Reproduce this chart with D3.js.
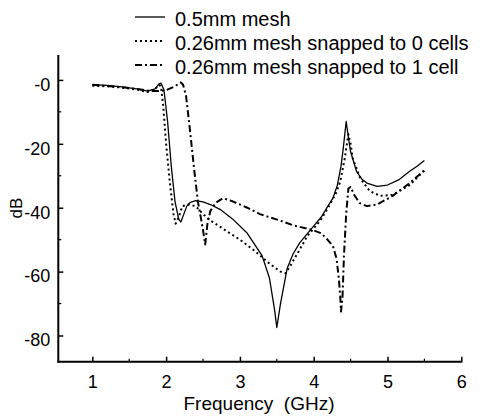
<!DOCTYPE html>
<html>
<head>
<meta charset="utf-8">
<script src="https://cdn.jsdelivr.net/npm/d3@7"></script>
<style>
  html, body { margin: 0; padding: 0; background: #fff; }
  svg text { font-family: "Liberation Sans", Arial, sans-serif; fill: #000; }
</style>
</head>
<body>
<svg id="chart" width="484" height="416"></svg>
<script>
// ---- data (frequency in GHz, magnitude in dB) ----
const seriesNames = ["0.5mm mesh", "0.26mm mesh snapped to 0 cells", "0.26mm mesh snapped to 1 cell"];

const mesh05Freq = [1.0, 1.2, 1.4, 1.6, 1.75, 1.85, 1.9, 1.93, 1.97, 2.02, 2.07, 2.12, 2.17, 2.2, 2.24, 2.28, 2.33, 2.4, 2.5, 2.6, 2.73, 2.9, 3.1, 3.3, 3.4, 3.47, 3.5, 3.55, 3.64, 3.72, 3.81, 3.99, 4.1, 4.18, 4.26, 4.32, 4.37, 4.4, 4.44, 4.47, 4.5, 4.58, 4.65, 4.72, 4.86, 5.0, 5.15, 5.3, 5.4, 5.5];
const mesh05dB   = [-1.5, -1.7, -2.2, -2.8, -3.5, -2.8, -1.3, -1.0, -3, -13, -27, -38, -43.5, -44.5, -42, -39.5, -38.3, -37.8, -38.2, -39, -40.5, -43.5, -48, -55, -62, -72, -77.5, -70, -59, -54.5, -51, -46, -43, -40, -37, -33, -27, -21.5, -13, -18, -22.5, -28.6, -31, -32.3, -33.3, -32.9, -31.3, -28.6, -27, -25.2];

const snap0Freq = [1.0, 1.2, 1.4, 1.6, 1.75, 1.85, 1.9, 1.93, 1.96, 2.0, 2.05, 2.1, 2.13, 2.17, 2.22, 2.3, 2.4, 2.5, 2.6, 2.8, 3.0, 3.2, 3.4, 3.55, 3.62, 3.7, 3.8, 3.91, 4.09, 4.22, 4.3, 4.36, 4.42, 4.47, 4.5, 4.53, 4.63, 4.76, 4.9, 5.07, 5.3, 5.5];
const snap0dB   = [-1.8, -2, -2.4, -3, -3.8, -3, -1.5, -2, -8, -20, -32, -42, -45, -43, -39.5, -39, -39.5, -42, -44, -47, -50, -53.5, -57.5, -60, -60.5, -57.5, -53.5, -49, -44, -39, -35.5, -31.8, -24.6, -17, -20, -24.6, -30.8, -34.8, -36.3, -36, -32.9, -28.3];

const snap1Freq = [1.0, 1.2, 1.4, 1.6, 1.8, 1.9, 2.0, 2.1, 2.2, 2.23, 2.27, 2.32, 2.38, 2.43, 2.47, 2.5, 2.53, 2.56, 2.6, 2.67, 2.77, 2.9, 3.1, 3.27, 3.54, 3.72, 3.99, 4.1, 4.18, 4.26, 4.31, 4.34, 4.36, 4.37, 4.39, 4.41, 4.44, 4.47, 4.5, 4.55, 4.62, 4.72, 4.86, 5.07, 5.3, 5.5];
const snap1dB   = [-1.5, -1.9, -2.3, -2.8, -3.5, -3.5, -3.2, -2.2, -0.8, -1.5, -5, -15, -28, -38, -43, -47, -51.5, -45, -41, -38.5, -37, -38, -40, -42, -44, -45.5, -47, -48, -49.8, -52, -56, -62, -68, -72.5, -68, -55, -42, -34, -33.5, -36, -38.5, -39.5, -39, -36.3, -32.3, -28.3];

const xTickValues = [1, 2, 3, 4, 5, 6];
const xTickLabels = ["1", "2", "3", "4", "5", "6"];
const yTickValues = [0, -20, -40, -60, -80];
const yTickLabels = ["-0", "-20", "-40", "-60", "-80"];
const xMinorTicks = [1.5, 2.5, 3.5, 4.5, 5.5];
const yMinorTicks = [-10, -30, -50, -70];
const xDomain = [0.539, 6];
const yDomain = [-88.2, 7.8];
const xTitle = "Frequency\u00a0\u00a0(GHz)";
const yTitle = "dB";

// ---- layout ----
const svg = d3.select("#chart");
const mLeft = 58.3, mRight = 461.3, mTop = 55, mBottom = 361.7;
const x = d3.scaleLinear().domain(xDomain).range([mLeft, mRight]);
const y = d3.scaleLinear().domain(yDomain).range([mBottom, mTop]);

const series = [
  { name: seriesNames[0], fx: mesh05Freq, fy: mesh05dB, dash: null, width: 1.3 },
  { name: seriesNames[1], fx: snap0Freq, fy: snap0dB, dash: "2,3", width: 2 },
  { name: seriesNames[2], fx: snap1Freq, fy: snap1dB, dash: "7,3,2,3", width: 2 }
];

const line = d3.line().x(d => x(d[0])).y(d => y(d[1]));

series.forEach(s => {
  const pts = s.fx.map((f, i) => [f, s.fy[i]]);
  svg.append("path")
    .attr("d", line(pts))
    .attr("fill", "none")
    .attr("stroke", "#000")
    .attr("stroke-width", s.width)
    .attr("stroke-linejoin", "round")
    .attr("stroke-dasharray", s.dash);
});

// ---- axes ----
const gx = svg.append("g").attr("transform", `translate(0,${mBottom})`);
gx.call(d3.axisBottom(x).tickValues(xTickValues).tickSize(-5).tickFormat((d, i) => xTickLabels[i]).tickSizeOuter(0));
gx.select(".domain").remove();
gx.selectAll(".tick line").attr("stroke", "#000").attr("stroke-width", 1.5);
gx.selectAll(".tick text").attr("y", 26.5).attr("dy", null).style("font-size", "18px")
  .attr("font-family", "Liberation Sans, Arial, sans-serif");
gx.selectAll(".minor").data(xMinorTicks).enter().append("line")
  .attr("x1", d => x(d)).attr("x2", d => x(d)).attr("y1", 0).attr("y2", -3)
  .attr("stroke", "#000").attr("stroke-width", 1.2);

const gy = svg.append("g").attr("transform", `translate(${mLeft},0)`);
gy.call(d3.axisLeft(y).tickValues(yTickValues).tickSize(-5).tickFormat((d, i) => yTickLabels[i]).tickSizeOuter(0));
gy.select(".domain").remove();
gy.selectAll(".tick line").attr("stroke", "#000").attr("stroke-width", 1.5);
gy.selectAll(".tick text").attr("x", -8).attr("dy", "0.35em").attr("y", 4).style("font-size", "18px")
  .attr("font-family", "Liberation Sans, Arial, sans-serif");
gy.selectAll(".minor").data(yMinorTicks).enter().append("line")
  .attr("y1", d => y(d)).attr("y2", d => y(d)).attr("x1", 0).attr("x2", 3)
  .attr("stroke", "#000").attr("stroke-width", 1.2);

// axis lines
svg.append("line").attr("x1", mLeft).attr("x2", mLeft).attr("y1", mTop).attr("y2", mBottom + 1)
  .attr("stroke", "#000").attr("stroke-width", 2);
svg.append("line").attr("x1", mLeft - 1).attr("x2", mRight + 1).attr("y1", mBottom).attr("y2", mBottom)
  .attr("stroke", "#000").attr("stroke-width", 2);

// titles
svg.append("text").attr("x", 259).attr("y", 410).attr("text-anchor", "middle")
  .style("font-size", "19px").text(xTitle);
svg.append("text").attr("transform", "translate(22,208) rotate(-90)").attr("text-anchor", "middle")
  .style("font-size", "17px").text(yTitle);

// ---- legend ----
const legendY = [17, 41, 65];
const lg = svg.append("g");
series.forEach((s, i) => {
  lg.append("line").attr("x1", 135).attr("x2", 165).attr("y1", legendY[i]).attr("y2", legendY[i])
    .attr("stroke", "#000").attr("stroke-width", s.width).attr("stroke-dasharray", s.dash);
  lg.append("text").attr("x", 175).attr("y", legendY[i] + 8.5)
    .style("font-size", "20px").text(s.name);
});
</script>
</body>
</html>
